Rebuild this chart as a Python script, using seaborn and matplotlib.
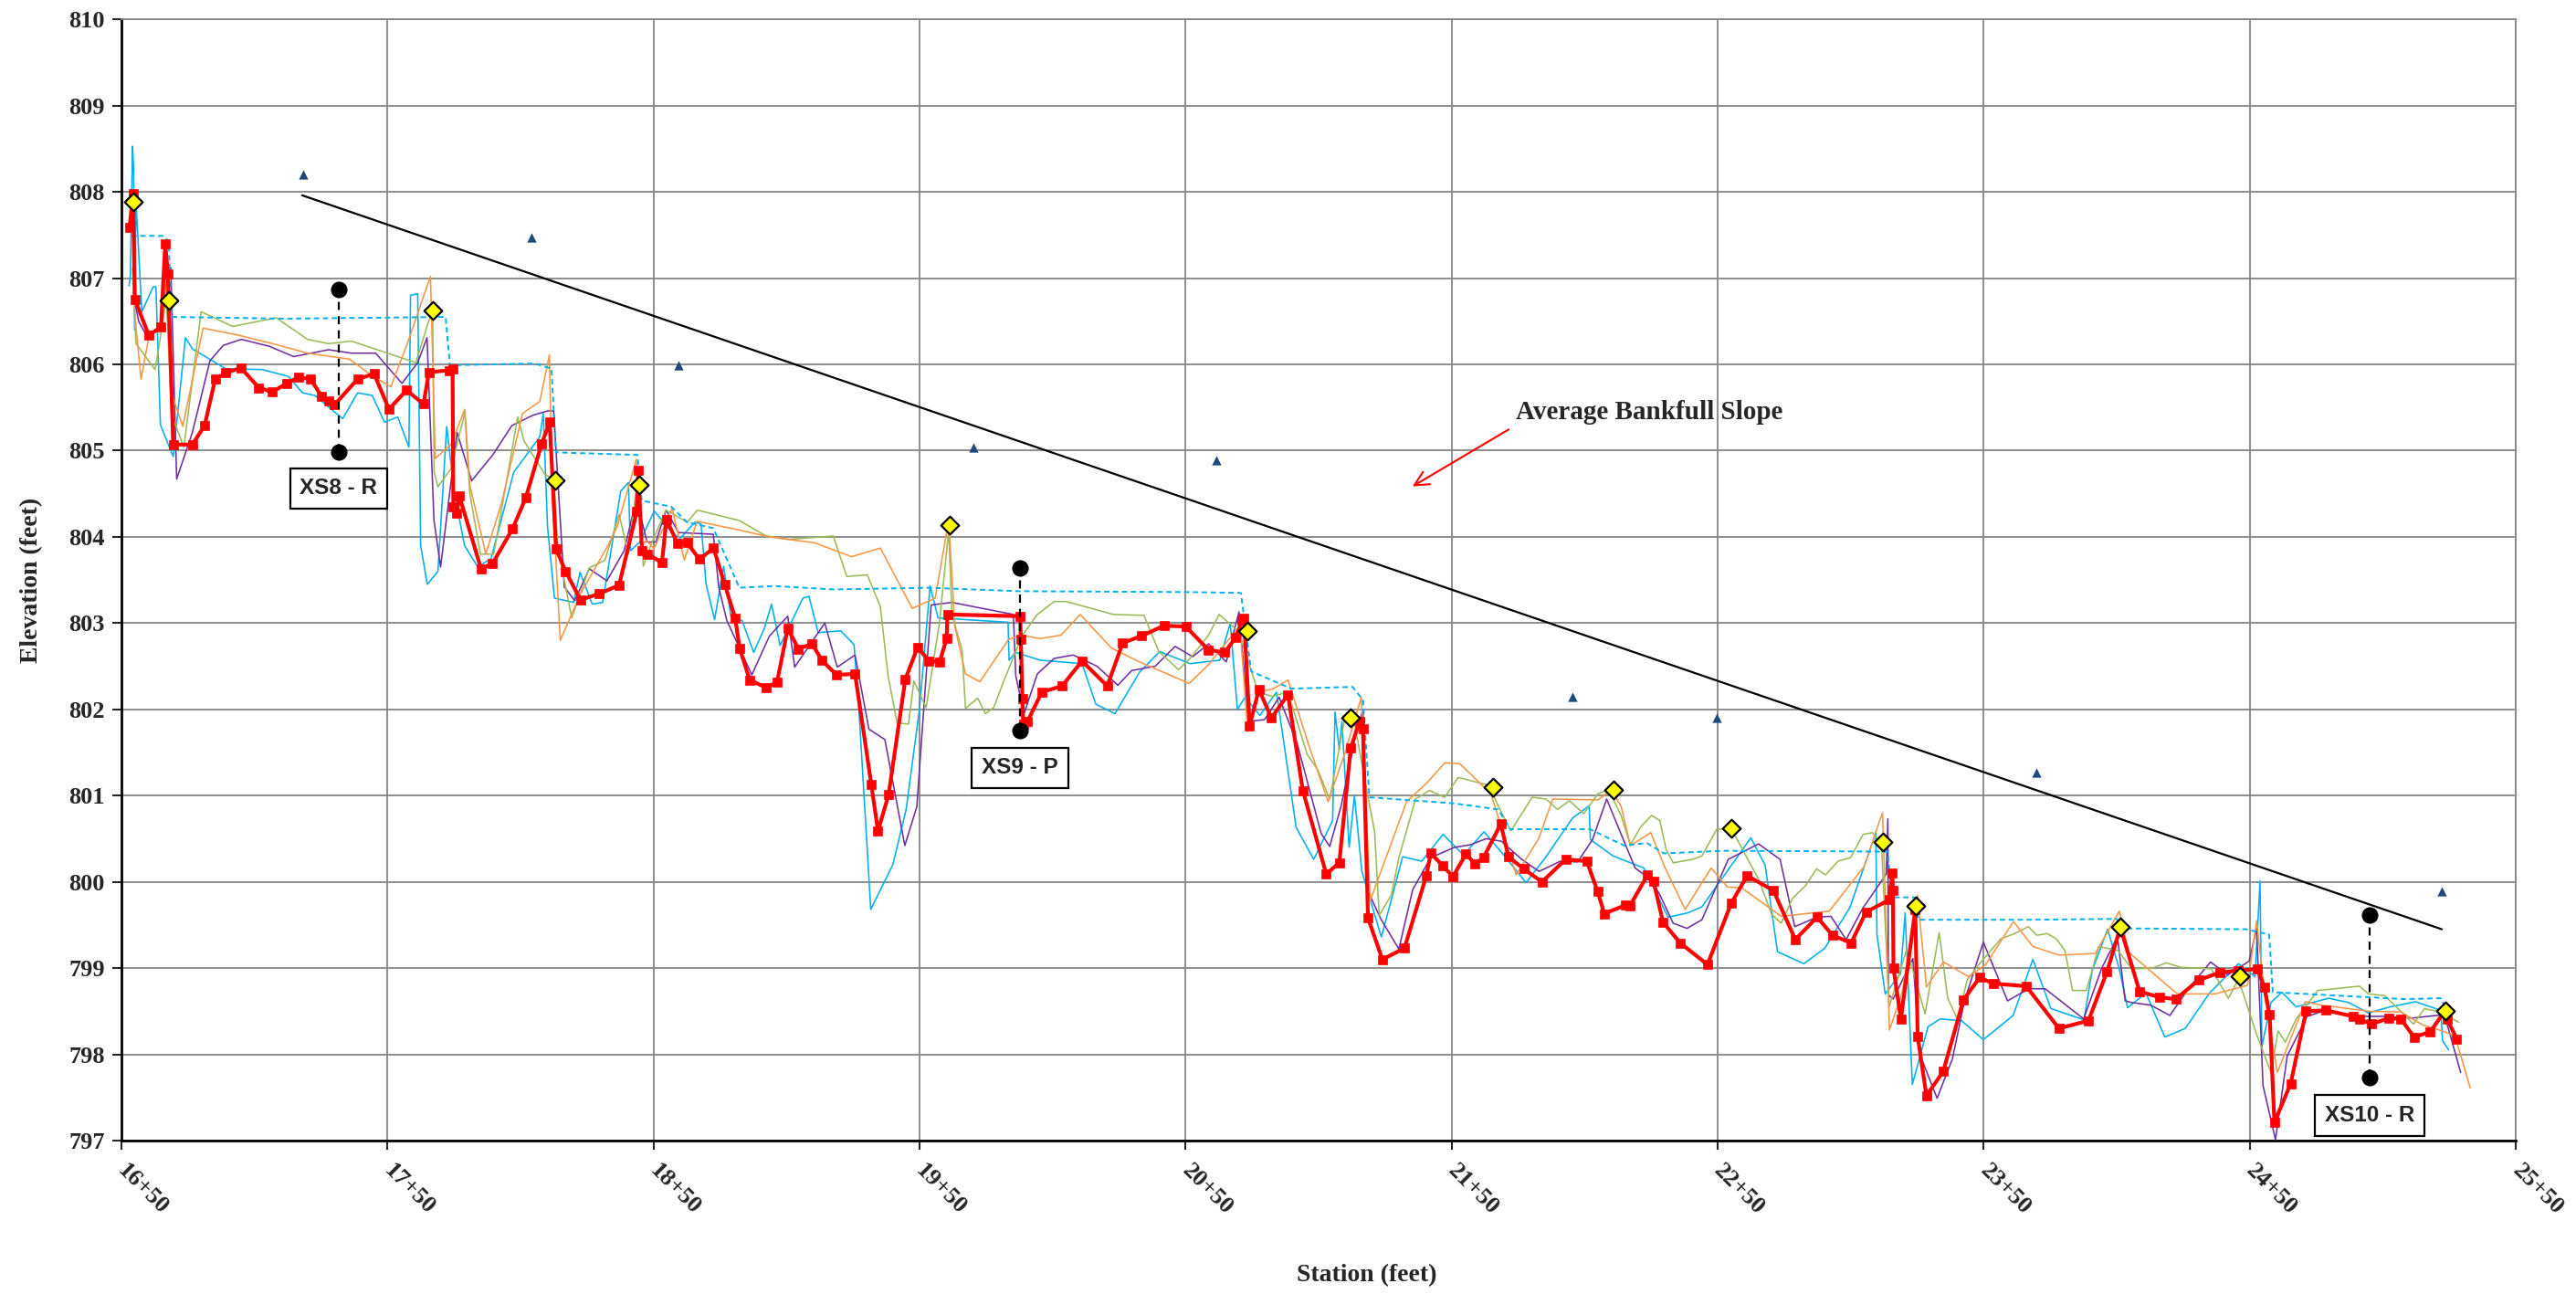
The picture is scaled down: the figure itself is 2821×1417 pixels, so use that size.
import numpy as np
import pandas as pd
import matplotlib.pyplot as plt
import seaborn as sns

# Longitudinal profile data, station (ft) / elevation (ft)

# current thalweg survey (thick red)
red_sta = [1653.1, 1654.4, 1655.1, 1660.3, 1664.9, 1666.5, 1667.5, 1669.5, 1676.7, 1681.3,
           1685.3, 1689.2, 1694.9, 1701.7, 1706.7, 1712.2, 1716.5, 1721.1, 1725.3, 1727.9,
           1730.1, 1738.8, 1745.0, 1750.6, 1757.2, 1763.6, 1765.6, 1773.2, 1774.5, 1774.8,
           1776.0, 1777.1, 1785.2, 1789.5, 1797.0, 1802.0, 1808.0, 1811.0, 1813.4, 1817.0,
           1822.6, 1829.6, 1837.1, 1843.8, 1844.3, 1845.7, 1847.9, 1853.2, 1854.9, 1859.1,
           1862.7, 1867.3, 1872.6, 1876.8, 1880.7, 1882.4, 1886.2, 1892.5, 1896.5, 1900.5,
           1904.5, 1909.6, 1913.3, 1918.8, 1925.8, 1931.9, 1934.4, 1938.4, 1944.7, 1949.3,
           1953.6, 1957.6, 1960.2, 1960.5, 1987.9, 1988.1, 1988.7, 1989.0, 1990.6, 1996.0,
           2003.6, 2011.1, 2020.6, 2026.4, 2033.4, 2041.9, 2050.1, 2058.6, 2064.6, 2068.9,
           2071.2, 2072.0, 2074.1, 2077.6, 2082.3, 2088.5, 2094.1, 2102.9, 2107.8, 2112.1,
           2115.4, 2116.7, 2118.6, 2124.0, 2132.3, 2140.5, 2142.2, 2146.6, 2150.5, 2155.4,
           2158.8, 2162.0, 2168.5, 2171.4, 2177.1, 2184.0, 2192.9, 2200.8, 2204.9, 2207.4,
           2215.4, 2217.0, 2223.7, 2225.9, 2229.5, 2236.0, 2246.2, 2255.1, 2261.1, 2271.0,
           2279.2, 2287.4, 2293.2, 2300.2, 2305.8, 2314.5, 2315.7, 2315.9, 2316.1, 2318.9,
           2324.3, 2325.2, 2328.5, 2334.8, 2342.4, 2348.5, 2353.7, 2366.0, 2378.3, 2389.4,
           2396.4, 2401.4, 2408.6, 2416.2, 2422.2, 2430.8, 2438.9, 2445.7, 2452.9, 2455.5,
           2457.5, 2459.3, 2465.4, 2471.2, 2478.6, 2488.9, 2491.2, 2495.9, 2502.3, 2506.8,
           2511.8, 2517.9, 2523.5, 2524.2, 2527.8]
red_elev = [807.59, 807.98, 806.75, 806.34, 806.43, 807.40, 807.05, 805.07, 805.07, 805.29,
            805.83, 805.90, 805.96, 805.73, 805.68, 805.78, 805.85, 805.83, 805.63, 805.58,
            805.53, 805.83, 805.89, 805.48, 805.70, 805.54, 805.91, 805.93, 805.95, 804.35,
            804.27, 804.47, 803.63, 803.69, 804.09, 804.45, 805.08, 805.33, 803.86, 803.60,
            803.27, 803.34, 803.44, 804.30, 804.77, 803.84, 803.80, 803.70, 804.20, 803.92,
            803.93, 803.74, 803.87, 803.45, 803.06, 802.71, 802.34, 802.25, 802.32, 802.94,
            802.70, 802.76, 802.57, 802.40, 802.41, 801.13, 800.59, 801.01, 802.35, 802.72,
            802.56, 802.55, 802.82, 803.10, 803.08, 802.81, 802.12, 801.83, 801.86, 802.20,
            802.27, 802.56, 802.27, 802.77, 802.85, 802.97, 802.96, 802.69, 802.66, 802.83,
            803.03, 803.06, 801.81, 802.23, 801.90, 802.17, 801.06, 800.09, 800.22, 801.55,
            801.86, 801.77, 799.58, 799.10, 799.23, 800.07, 800.33, 800.19, 800.06, 800.32,
            800.21, 800.28, 800.67, 800.29, 800.15, 800.00, 800.26, 800.24, 799.89, 799.63,
            799.73, 799.72, 800.08, 800.01, 799.53, 799.29, 799.04, 799.75, 800.07, 799.90,
            799.33, 799.59, 799.38, 799.29, 799.65, 799.79, 800.10, 799.90, 799.00, 798.41,
            799.68, 798.21, 797.52, 797.80, 798.63, 798.89, 798.82, 798.79, 798.30, 798.39,
            798.96, 799.47, 798.73, 798.66, 798.64, 798.86, 798.95, 798.97, 798.99, 798.78,
            798.46, 797.21, 797.66, 798.50, 798.51, 798.44, 798.41, 798.35, 798.42, 798.41,
            798.20, 798.26, 798.51, 798.41, 798.18]

# earlier surveys (thin lines)
cyan_sta = [1652.9, 1653.4, 1654.2, 1654.6, 1655.0, 1655.5, 1657.7, 1662.0, 1663.0, 1664.7,
            1669.5, 1674.1, 1676.7, 1689.2, 1703.0, 1712.8, 1718.1, 1722.7, 1733.2, 1738.8,
            1744.3, 1748.9, 1753.9, 1758.1, 1758.7, 1761.4, 1762.5, 1765.0, 1769.0, 1772.3,
            1775.2, 1779.0, 1784.0, 1789.0, 1797.5, 1807.3, 1808.6, 1810.2, 1812.8, 1820.0,
            1822.4, 1827.0, 1830.9, 1837.7, 1840.6, 1841.4, 1844.9, 1850.3, 1857.0, 1860.0,
            1865.6, 1867.9, 1869.8, 1873.0, 1876.4, 1879.1, 1883.3, 1887.7, 1891.7, 1894.4,
            1897.6, 1906.2, 1908.5, 1911.9, 1920.5, 1925.4, 1927.3, 1931.7, 1936.0, 1940.0,
            1945.0, 1950.0, 1954.0, 1957.0, 1983.3, 1983.7, 1986.1, 1995.3, 2011.1, 2016.3,
            2023.5, 2032.7, 2040.3, 2051.7, 2062.9, 2066.8, 2069.5, 2072.4, 2078.0, 2084.2,
            2091.6, 2098.2, 2105.3, 2106.2, 2107.8, 2108.8, 2111.5, 2113.5, 2116.3, 2123.6,
            2127.0, 2131.6, 2138.8, 2146.8, 2154.5, 2162.2, 2170.2, 2178.0, 2185.5, 2195.5,
            2201.7, 2202.2, 2210.7, 2222.3, 2231.4, 2238.8, 2244.1, 2262.5, 2267.9, 2272.5,
            2282.4, 2290.3, 2299.7, 2309.5, 2309.9, 2313.0, 2318.8, 2320.5, 2323.2, 2329.1,
            2333.7, 2341.7, 2349.9, 2361.1, 2368.5, 2375.3, 2387.7, 2390.8, 2396.6, 2400.9,
            2404.1, 2411.0, 2418.1, 2425.8, 2434.9, 2445.8, 2452.0, 2453.9, 2454.6, 2458.0,
            2462.1, 2467.5, 2479.7, 2487.2, 2494.6, 2502.8, 2512.3, 2521.8, 2522.5, 2524.8]
cyan_elev = [806.91, 807.03, 808.53, 808.28, 806.40, 807.90, 806.61, 806.90, 806.90, 805.30,
             804.93, 806.31, 806.18, 805.95, 805.94, 805.86, 805.67, 805.64, 805.37, 805.67,
             805.64, 805.33, 805.39, 805.04, 806.80, 806.82, 803.90, 803.45, 803.60, 805.28,
             804.51, 803.90, 803.65, 803.75, 804.75, 805.16, 805.43, 804.12, 803.29, 803.24,
             803.59, 803.22, 803.24, 804.53, 804.63, 803.84, 803.94, 804.30, 804.05, 803.98,
             804.17, 804.15, 803.45, 803.04, 803.66, 803.08, 803.03, 802.66, 802.94, 803.22,
             802.74, 803.29, 803.31, 802.89, 802.91, 802.75, 801.97, 799.68, 799.95, 800.20,
             800.84, 802.00, 803.43, 803.06, 803.01, 802.57, 802.66, 802.57, 802.53, 802.06,
             801.95, 802.43, 802.67, 802.53, 802.57, 803.00, 802.00, 802.14, 801.93, 802.20,
             800.63, 800.26, 800.71, 801.97, 801.53, 801.86, 800.40, 801.00, 800.12, 799.36,
             799.75, 800.29, 800.24, 800.55, 800.31, 800.58, 800.29, 799.99, 800.29, 800.74,
             800.88, 800.49, 800.30, 800.16, 799.59, 799.64, 799.71, 800.51, 800.19, 799.19,
             799.05, 799.23, 799.70, 800.57, 799.39, 798.70, 798.94, 799.64, 797.65, 798.32,
             798.41, 798.39, 798.17, 798.45, 799.10, 798.53, 798.40, 798.97, 799.45, 799.00,
             798.54, 798.71, 798.20, 798.30, 798.71, 799.05, 798.90, 800.01, 798.09, 798.60,
             798.72, 798.55, 798.65, 798.60, 798.48, 798.55, 798.61, 798.51, 798.16, 798.05]

purple_sta = [1654.4, 1656.5, 1659.7, 1664.9, 1666.9, 1668.6, 1670.8, 1676.7, 1683.3, 1688.3,
              1695.1, 1705.6, 1714.8, 1727.9, 1736.5, 1745.6, 1755.5, 1761.4, 1764.9, 1767.5,
              1770.0, 1776.2, 1781.7, 1789.6, 1796.8, 1804.7, 1810.2, 1812.5, 1816.5, 1820.4,
              1825.9, 1832.5, 1839.0, 1843.6, 1847.6, 1850.9, 1854.8, 1859.4, 1872.5, 1874.6,
              1877.6, 1887.0, 1893.6, 1900.5, 1903.1, 1914.4, 1919.1, 1925.8, 1931.0, 1937.0,
              1944.5, 1949.0, 1954.4, 1962.2, 1985.3, 1986.2, 1989.3, 1994.3, 2000.6, 2007.8,
              2016.7, 2024.6, 2029.8, 2038.6, 2046.1, 2052.7, 2058.7, 2065.3, 2070.1, 2073.7,
              2079.7, 2085.2, 2092.0, 2101.0, 2104.2, 2108.5, 2114.1, 2116.7, 2118.6, 2123.4,
              2130.2, 2135.4, 2142.2, 2151.1, 2157.1, 2163.0, 2168.8, 2176.0, 2182.9, 2191.0,
              2197.4, 2203.0, 2208.3, 2219.0, 2223.4, 2228.0, 2233.3, 2238.5, 2244.1, 2254.0,
              2265.4, 2273.5, 2279.0, 2287.4, 2292.6, 2298.3, 2304.5, 2313.4, 2314.0, 2314.2,
              2316.0, 2323.4, 2326.0, 2332.5, 2338.3, 2342.8, 2349.9, 2359.0, 2367.0, 2373.1,
              2387.6, 2394.4, 2400.3, 2403.2, 2405.7, 2412.8, 2420.0, 2427.4, 2435.3, 2441.7,
              2449.8, 2452.6, 2455.0, 2459.7, 2464.1, 2471.6, 2478.4, 2488.5, 2500.1, 2510.9,
              2523.2, 2529.3]
purple_elev = [806.84, 806.50, 806.32, 806.41, 806.98, 807.12, 804.67, 805.21, 806.04, 806.22,
               806.29, 806.21, 806.09, 806.17, 806.13, 806.13, 805.78, 806.02, 806.31, 804.20,
               803.65, 805.21, 804.65, 804.95, 805.29, 805.41, 805.46, 805.46, 803.42, 803.26,
               803.63, 803.49, 803.84, 804.44, 803.94, 803.94, 804.31, 804.05, 804.03, 803.41,
               803.03, 802.40, 802.85, 803.08, 802.49, 803.00, 802.49, 802.63, 801.77, 801.65,
               800.42, 800.87, 803.21, 803.24, 803.10, 802.39, 801.95, 802.41, 802.59, 802.63,
               802.50, 802.28, 802.45, 802.50, 802.73, 802.61, 802.76, 802.55, 803.13, 801.86,
               801.88, 802.14, 801.60, 800.56, 800.41, 800.88, 801.72, 802.00, 799.89, 799.57,
               799.22, 799.91, 800.28, 800.40, 800.43, 800.50, 800.47, 800.27, 800.12, 800.24,
               800.23, 800.49, 800.96, 800.16, 800.06, 799.87, 799.52, 799.46, 799.56, 800.26,
               800.44, 800.26, 799.48, 799.59, 799.60, 799.33, 799.69, 800.09, 800.73, 798.69,
               798.64, 799.11, 798.00, 797.49, 797.95, 798.62, 799.30, 798.62, 798.76, 798.76,
               798.41, 799.00, 799.36, 798.62, 798.60, 798.57, 798.45, 798.78, 799.07, 798.92,
               799.08, 799.46, 797.64, 797.01, 797.98, 798.44, 798.51, 798.44, 798.44, 798.42,
               798.46, 797.79]

green_sta = [1654.4, 1655.5, 1662.7, 1664.3, 1666.9, 1668.9, 1673.5, 1680.0, 1691.8, 1708.2,
             1720.0, 1727.9, 1736.5, 1760.7, 1765.3, 1767.0, 1767.6, 1769.0, 1773.9, 1779.1,
             1781.0, 1785.0, 1790.0, 1799.0, 1801.4, 1809.3, 1812.6, 1814.1, 1819.3, 1825.9,
             1831.8, 1837.1, 1840.6, 1844.3, 1846.2, 1849.5, 1854.7, 1862.7, 1866.5, 1882.2,
             1892.4, 1900.5, 1917.6, 1922.7, 1930.4, 1935.3, 1938.2, 1941.6, 1945.9, 1947.9,
             1952.5, 1957.5, 1961.0, 1962.2, 1966.0, 1967.3, 1971.9, 1974.8, 1977.9, 1981.6,
             1988.5, 1994.3, 2000.6, 2005.2, 2022.9, 2034.4, 2040.0, 2047.4, 2052.0, 2058.7,
             2062.6, 2066.8, 2070.0, 2077.3, 2082.6, 2088.5, 2095.7, 2099.7, 2104.2, 2110.1,
             2113.0, 2118.2, 2121.1, 2122.8, 2127.4, 2130.2, 2136.5, 2141.7, 2147.4, 2152.5,
             2164.0, 2167.4, 2172.3, 2180.3, 2185.5, 2189.8, 2194.3, 2199.7, 2205.0, 2209.0,
             2213.7, 2217.2, 2221.2, 2225.2, 2228.3, 2230.6, 2233.3, 2240.5, 2244.1, 2249.7,
             2255.1, 2265.4, 2270.4, 2273.9, 2278.2, 2283.2, 2287.2, 2290.6, 2295.3, 2300.0,
             2304.7, 2308.2, 2311.6, 2314.5, 2321.1, 2328.0, 2333.3, 2336.5, 2340.3, 2343.8,
             2348.2, 2356.5, 2361.7, 2366.8, 2370.0, 2373.8, 2377.3, 2380.6, 2383.4, 2388.6,
             2393.3, 2400.6, 2405.7, 2413.5, 2418.7, 2424.0, 2435.6, 2442.0, 2445.8, 2452.6,
             2458.0, 2460.7, 2463.4, 2467.5, 2475.6, 2491.3, 2494.6, 2500.8, 2511.6, 2515.7,
             2521.8, 2528.6]
green_elev = [806.98, 806.24, 805.94, 806.24, 806.77, 805.42, 805.04, 806.61, 806.44, 806.54,
              806.29, 806.24, 806.27, 806.02, 806.48, 806.62, 804.75, 804.58, 804.79, 805.44,
              804.50, 803.80, 803.80, 805.39, 805.11, 804.72, 804.68, 803.87, 803.06, 803.64,
              803.73, 804.26, 803.80, 804.75, 803.66, 803.94, 804.31, 804.17, 804.31, 804.19,
              804.01, 803.97, 804.01, 803.54, 803.56, 803.19, 802.39, 801.84, 801.83, 802.33,
              802.02, 803.00, 804.08, 803.10, 802.69, 802.01, 802.13, 801.95, 802.02, 802.32,
              802.85, 803.10, 803.25, 803.25, 803.10, 803.09, 802.67, 802.46, 802.60, 802.86,
              803.10, 802.99, 802.90, 802.20, 802.15, 802.20, 801.48, 801.30, 800.96, 801.93,
              801.93, 801.05, 800.58, 799.61, 799.85, 800.28, 800.96, 801.06, 800.98, 801.21,
              801.12, 800.89, 800.59, 800.98, 800.96, 800.84, 800.94, 800.79, 801.02, 801.07,
              800.77, 800.43, 800.64, 800.77, 800.71, 800.38, 800.22, 800.26, 800.30, 800.61,
              800.62, 800.03, 799.62, 799.52, 799.81, 799.96, 800.15, 800.08, 800.24, 800.28,
              800.55, 800.57, 800.44, 798.55, 799.22, 798.47, 799.41, 798.65, 798.40, 798.86,
              799.04, 799.34, 799.40, 799.48, 799.38, 799.40, 799.34, 799.20, 798.74, 798.74,
              799.25, 799.20, 798.99, 799.00, 799.06, 799.01, 798.99, 798.65, 798.87, 798.23,
              797.79, 798.27, 798.14, 798.41, 798.74, 798.79, 798.70, 798.68, 798.35, 798.53,
              798.49, 798.37]

orange_sta = [1654.2, 1655.0, 1657.4, 1660.3, 1664.9, 1666.9, 1668.5, 1673.1, 1680.7, 1693.8,
              1706.9, 1720.0, 1735.8, 1743.7, 1751.3, 1757.5, 1766.2, 1768.0, 1773.9, 1779.1,
              1781.0, 1787.0, 1793.0, 1800.8, 1807.3, 1810.9, 1812.0, 1815.0, 1822.6, 1833.1,
              1836.4, 1843.6, 1845.5, 1847.5, 1850.2, 1857.0, 1861.6, 1866.4, 1882.2, 1893.6,
              1910.7, 1924.5, 1935.3, 1947.3, 1955.9, 1961.0, 1963.3, 1967.3, 1972.7, 1983.5,
              1988.1, 1995.3, 2003.2, 2010.4, 2022.2, 2032.7, 2043.2, 2051.4, 2059.0, 2066.0,
              2070.5, 2073.4, 2077.3, 2083.2, 2088.5, 2096.4, 2103.6, 2110.0, 2116.1, 2119.4,
              2133.1, 2140.5, 2147.5, 2153.1, 2164.8, 2174.3, 2182.9, 2188.0, 2205.0, 2210.0,
              2213.7, 2217.2, 2224.9, 2230.0, 2237.8, 2247.6, 2253.7, 2259.0, 2273.9, 2292.0,
              2305.1, 2310.8, 2312.0, 2314.6, 2319.4, 2325.1, 2328.5, 2334.9, 2344.3, 2350.8,
              2361.2, 2368.5, 2378.4, 2392.0, 2401.0, 2404.6, 2422.8, 2437.0, 2449.2, 2452.6,
              2456.0, 2460.4, 2470.9, 2477.0, 2494.6, 2506.9, 2515.0, 2522.5, 2527.2, 2532.9]
orange_elev = [807.12, 806.60, 805.83, 806.31, 806.48, 807.05, 805.70, 805.28, 806.42, 806.34,
               806.24, 806.13, 806.06, 805.88, 805.74, 806.24, 807.02, 804.91, 805.07, 805.48,
               804.60, 803.80, 804.40, 805.43, 805.57, 806.11, 804.50, 802.80, 803.34, 803.91,
               804.12, 804.90, 803.90, 803.96, 803.86, 804.33, 803.73, 804.18, 804.08, 804.00,
               803.93, 803.77, 803.87, 803.17, 803.29, 804.19, 802.96, 802.41, 802.32, 802.81,
               802.86, 802.82, 802.86, 803.10, 802.71, 802.55, 802.41, 802.30, 802.53, 802.80,
               802.95, 801.74, 802.20, 802.24, 802.34, 801.58, 800.93, 801.50, 802.14, 799.78,
               800.93, 801.14, 801.38, 801.37, 801.02, 800.08, 800.51, 800.96, 800.95, 801.06,
               800.88, 800.42, 800.57, 800.18, 799.68, 800.16, 799.94, 799.93, 799.60, 799.66,
               800.18, 800.70, 800.80, 798.28, 798.72, 799.84, 798.78, 799.07, 798.90, 799.04,
               799.54, 799.25, 799.15, 799.17, 799.66, 799.18, 798.70, 798.70, 798.80, 799.55,
               798.60, 797.79, 798.61, 798.57, 798.50, 798.49, 798.34, 798.27, 798.21, 797.61]

# water surface (dashed)
ws_sta = [1653.8, 1665.6, 1667.8, 1668.9, 1712.2, 1771.9, 1773.5, 1805.4, 1811.7, 1813.3,
          1844.0, 1845.6, 1856.7, 1862.6, 1872.5, 1882.3, 1895.5, 1917.8, 1953.2, 1987.3,
          2049.8, 2070.8, 2074.7, 2089.8, 2112.8, 2116.7, 2119.1, 2150.8, 2167.5, 2172.1,
          2202.0, 2214.9, 2223.4, 2229.8, 2252.6, 2314.0, 2315.3, 2324.0, 2325.5, 2368.0,
          2400.0, 2401.7, 2448.5, 2457.3, 2458.7, 2508.2, 2521.8, 2523.8]
ws_elev = [807.49, 807.49, 807.43, 806.55, 806.53, 806.55, 805.99, 806.01, 805.95, 804.98,
           804.95, 804.42, 804.35, 804.17, 804.10, 803.41, 803.43, 803.39, 803.41, 803.37,
           803.36, 803.35, 802.44, 802.24, 802.26, 802.11, 800.98, 800.91, 800.84, 800.61,
           800.61, 800.42, 800.45, 800.33, 800.36, 800.35, 799.82, 799.82, 799.56, 799.56,
           799.57, 799.46, 799.45, 799.39, 798.72, 798.64, 798.65, 798.53]

# riffle heads (yellow diamonds)
riffle_sta = [1654.4, 1667.8, 1767.0, 1813.2, 1844.7, 1961.5, 2073.1, 2112.1, 2165.7, 2210.8,
              2255.1, 2312.3, 2324.5, 2401.4, 2446.2, 2523.6]
riffle_elev = [807.89, 806.74, 806.62, 804.66, 804.60, 804.14, 802.91, 801.90, 801.10, 801.07,
               800.62, 800.46, 799.72, 799.48, 798.91, 798.50]

# bankfull indicators (triangles) and average bankfull slope line
bkf_sta = [1718.5, 1804.2, 1859.3, 1970.4, 2061.7, 2195.5, 2249.8, 2369.7, 2522.2]
bkf_elev = [808.20, 807.47, 805.99, 805.04, 804.89, 802.15, 801.90, 801.27, 799.89]
slope_sta = [1718.0, 2522.2]
slope_elev = [807.96, 799.45]

# cross sections
xs_names = ["XS8 - R", "XS9 - P", "XS10 - R"]
xs_sta = [1731.7, 1987.8, 2495.2]
xs_top = [806.87, 803.64, 799.62]
xs_bot = [804.98, 801.75, 797.73]
xs_box_elev = [804.56, 801.32, 797.29]

tick_sta = list(range(1650, 2551, 100))
tick_labels = [f"{s // 100}+{s % 100:02d}" for s in tick_sta]

sns.set_style("white")
plt.rcParams["font.family"] = ["Liberation Serif", "DejaVu Serif"]
plt.rcParams["font.weight"] = "bold"

fig, ax = plt.subplots(figsize=(28.21, 14.17), dpi=100)
fig.subplots_adjust(left=0.0471, right=0.9766, bottom=0.1186, top=0.985)

thin = dict(sort=False, estimator=None, lw=1.15, legend=False, ax=ax)
sns.lineplot(x=cyan_sta, y=cyan_elev, color="#00B0F0", zorder=3, **thin)
sns.lineplot(x=purple_sta, y=purple_elev, color="#7030A0", zorder=3, **thin)
sns.lineplot(x=green_sta, y=green_elev, color="#9BBB59", zorder=3, **thin)
sns.lineplot(x=orange_sta, y=orange_elev, color="#F79646", zorder=3, **thin)
sns.lineplot(x=ws_sta, y=ws_elev, color="#00B0F0", sort=False, estimator=None, lw=1.4,
             dashes=False, linestyle=(0, (3, 2)), legend=False, zorder=4, ax=ax)
sns.lineplot(x=slope_sta, y=slope_elev, color="black", lw=1.6, sort=False,
             estimator=None, legend=False, zorder=4, ax=ax)
sns.lineplot(x=red_sta, y=red_elev, color="#FF0000", lw=3.0, sort=False, estimator=None,
             marker="s", markersize=6.5, markeredgecolor="#FF0000", markeredgewidth=0.5,
             legend=False, zorder=6, ax=ax)

sns.scatterplot(x=bkf_sta, y=bkf_elev, marker="^", s=55, color="#1F497D",
                edgecolor="#1F497D", linewidth=0, zorder=7, ax=ax)
sns.scatterplot(x=riffle_sta, y=riffle_elev, marker="D", s=100, color="#FFFF00",
                edgecolor="black", linewidth=1.6, zorder=8, ax=ax)

# cross section markers
for name, s, top, bot, box in zip(xs_names, xs_sta, xs_top, xs_bot, xs_box_elev):
    ax.plot([s, s], [bot, top], color="black", lw=1.6, linestyle=(0, (4, 3)), zorder=8)
    ax.text(s, box, name, ha="center", va="center", fontsize=17.5, fontweight="bold",
            family=["Liberation Sans", "DejaVu Sans"], zorder=9,
            bbox=dict(boxstyle="square,pad=0.45", fc="white", ec="black", lw=1.6))
sns.scatterplot(x=xs_sta + xs_sta, y=xs_top + xs_bot, s=170, color="black",
                edgecolor="black", linewidth=0, zorder=9, ax=ax)

ax.text(2174.2, 805.44, "Average Bankfull Slope", fontsize=21, fontweight="bold",
        ha="left", va="center")
ax.annotate("", xy=(2134.5, 804.57), xytext=(2172.3, 805.26),
            arrowprops=dict(arrowstyle="->", color="red", lw=1.5, mutation_scale=28))

ax.set_xlim(1650, 2550)
ax.set_ylim(797, 810)
ax.set_xticks(tick_sta)
ax.set_xticklabels(tick_labels, rotation=-45, ha="left", va="center",
                   rotation_mode="anchor")
ax.set_yticks(range(797, 811))
ax.tick_params(axis="both", bottom=True, left=True, direction="out", length=7,
               width=1.5, labelsize=19, pad=6)
ax.tick_params(axis="x", pad=14)
for lab in ax.get_xticklabels() + ax.get_yticklabels():
    lab.set_fontweight("bold")

ax.grid(True, color="#868686", lw=1.3)
ax.set_axisbelow(True)
for side in ["left", "bottom"]:
    ax.spines[side].set_color("black")
    ax.spines[side].set_linewidth(2)
for side in ["top", "right"]:
    ax.spines[side].set_color("#868686")
    ax.spines[side].set_linewidth(1.3)

ax.set_xlabel("Station (feet)", fontsize=20, fontweight="bold")
ax.set_ylabel("Elevation (feet)", fontsize=20, fontweight="bold")
ax.xaxis.set_label_coords(0.52, -0.1205)
ax.xaxis.label.set_va("center")
ax.yaxis.set_label_coords(-0.0375, 0.5)
ax.yaxis.label.set_va("center")

fig.savefig("out.png", dpi=100)
